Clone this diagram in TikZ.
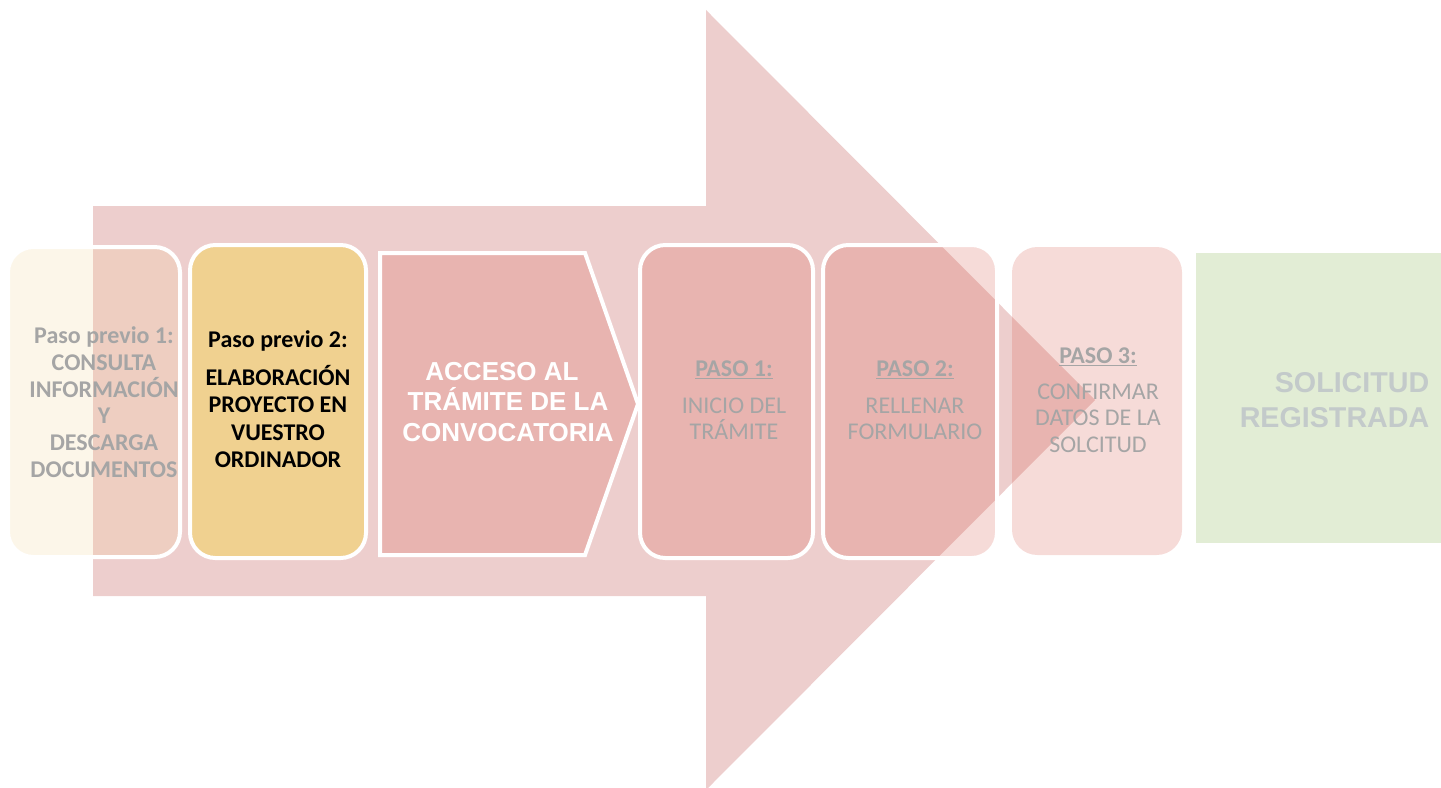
\documentclass[tikz,border=0pt]{standalone}
\usepackage{fontspec}
\setmainfont{Carlito}
\newfontfamily\arialfont{Liberation Sans}
\usepackage{tikz}

\definecolor{flecha}{HTML}{C0504D}
\definecolor{rojizo}{HTML}{D24A3C}
\definecolor{amarillo}{HTML}{F0D190}
\definecolor{verde}{HTML}{E2EDD5}
\definecolor{gristexto}{HTML}{A5A5A5}
\definecolor{grisverde}{HTML}{C3CACA}

\tikzset{
  caja/.style={rounded corners=19pt, draw=white, line width=3pt},
  rosa/.style={fill=rojizo, fill opacity=0.2},
  textopaso/.style={align=center, text=gristexto, font=\fontsize{18}{19}\selectfont},
}

\begin{document}
\begin{tikzpicture}[x=0.75pt, y=-0.75pt]
\useasboundingbox (0,0) rectangle (1441,788);
\fill[flecha, fill opacity=0.28] (93,206) -- (706,206) -- (706,10) -- (1095,400) -- (706,790) -- (706,596) -- (93,596) -- cycle;
\draw[caja, fill=amarillo, fill opacity=0.2] (8,247) rectangle (180,557);
\draw[caja, fill=amarillo] (190,245) rectangle (366,558);
\draw[line width=3pt, draw=white, rosa] (380,253) -- (585,253) -- (638,404) -- (585,555) -- (380,555) -- cycle;
\draw[caja, rosa] (640,245) rectangle (813,558);
\draw[caja, rosa] (823,245) rectangle (997,558);
\fill[rosa, rounded corners=19pt] (1012,247) rectangle (1182,555);
\fill[verde] (1196,253) rectangle (1441,543);

\node[align=center, text=gristexto, font=\bfseries\fontsize{18}{20}\selectfont] (previo1) at (104,402)
  {Paso previo 1:\\CONSULTA\\INFORMACIÓN\\Y\\DESCARGA\\DOCUMENTOS};
\node[align=center, text=black, font=\bfseries\fontsize{18}{20.5}\selectfont] (previo2) at (278,399)
  {Paso previo 2:\\[8pt]ELABORACIÓN\\PROYECTO EN\\VUESTRO\\ORDINADOR};
\node[align=center, text=white, font=\arialfont\bfseries\fontsize{19.5}{23}\selectfont] (acceso) at (508,402)
  {ACCESO AL\hspace*{9pt}\\TRÁMITE DE LA\\CONVOCATORIA};
\node[textopaso] (paso1) at (734,400) {\textbf{\underline{PASO 1:}}\\[9pt]INICIO DEL\\TRÁMITE};
\node[textopaso] (paso2) at (915,400) {\textbf{\underline{PASO 2:}}\\[9pt]RELLENAR\\FORMULARIO};
\node[textopaso, font=\fontsize{18}{20}\selectfont] (paso3) at (1098,400) {\textbf{\underline{PASO 3:}}\\[7pt]CONFIRMAR\\DATOS DE LA\\SOLCITUD};
\node[align=right, anchor=east, text=grisverde, font=\arialfont\bfseries\fontsize{21.5}{26}\selectfont] (registrada) at (1434,400)
  {SOLICITUD\\REGISTRADA};
\end{tikzpicture}
\end{document}
